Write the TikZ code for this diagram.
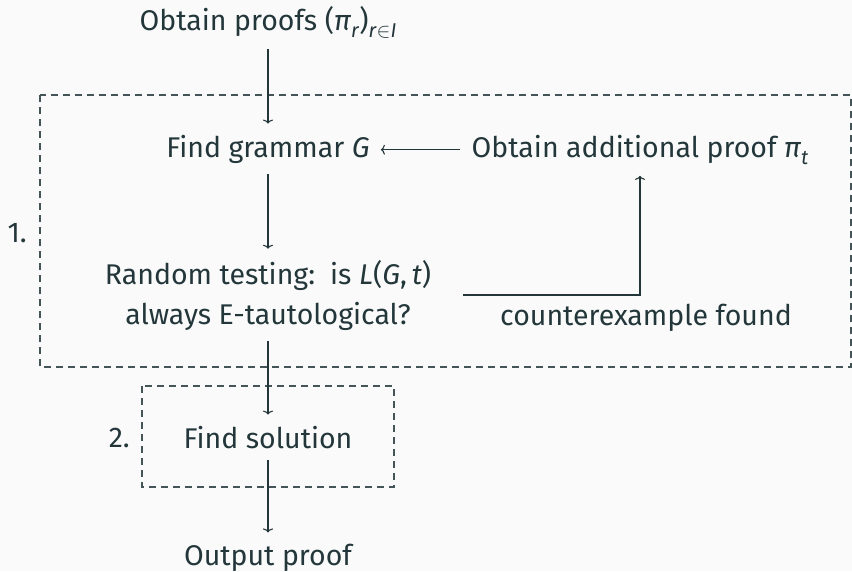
\documentclass[tikz,border=0pt]{standalone}
\usepackage{fontspec}
\setmainfont{Fira Sans}
\usetikzlibrary{arrows.meta}
\definecolor{mfg}{HTML}{23373B}
\definecolor{mbg}{HTML}{FAFAFA}
\newcommand\mysub[1]{\raisebox{-0.26em}{\fontsize{20}{24}\selectfont #1}}
\begin{document}
\begin{tikzpicture}[x=1pt,y=-1pt,
  lbl/.style={text=mfg, inner sep=11pt, font=\fontsize{28.5}{40}\selectfont},
  num/.style={text=mfg, inner sep=0pt, font=\fontsize{28.5}{40}\selectfont},
  arr/.style={draw=mfg, line width=1.1pt, -{To[length=4pt,width=10pt]}},
  dashbox/.style={draw=mfg!85, line width=1.1pt, dash pattern=on 7pt off 5pt}]
\useasboundingbox (0,0) rectangle (852,571);
\fill[mbg] (0,0) rectangle (852,571);
\node[lbl, anchor=base] (obtain) at (268,30) {Obtain proofs (\textit{π}\mysub{\textit{r}})\mysub{\textit{r}$\in$\textit{I}}};
\node[lbl, anchor=base] (grammar) at (268,157) {Find grammar \textit{G}};
\node[lbl, anchor=base] (addproof) at (640,157) {Obtain additional proof \textit{π}\mysub{\textit{t}}};
\node[lbl, align=center] (random) at (268,295) {Random testing:\ \ is \textit{L}(\textit{G},\,\textit{t})\\always E-tautological?};
\node[lbl, anchor=base] (counter) at (646,325) {counterexample found};
\node[lbl, anchor=base] (solution) at (268,448) {Find solution};
\node[lbl, anchor=base] (output) at (268,565) {Output proof};
\node[num, anchor=base east] (one) at (27,242) {1.};
\node[num, anchor=base east] (two) at (130,447) {2.};
\draw[dashbox] (40,95) rectangle (851,367);
\draw[dashbox] (142,386) rectangle (394,487);
\draw[arr] (obtain.south) -- (grammar.north);
\draw[arr] (grammar.south) -- (random.north);
\draw[arr] (random.south) -- (solution.north);
\draw[arr] (solution.south) -- (output.north);
\draw[arr] (addproof.west) -- (grammar.east |- addproof.west);
\draw[arr] ([xshift=21pt]random.east) -| (addproof.south);
\end{tikzpicture}
\end{document}
